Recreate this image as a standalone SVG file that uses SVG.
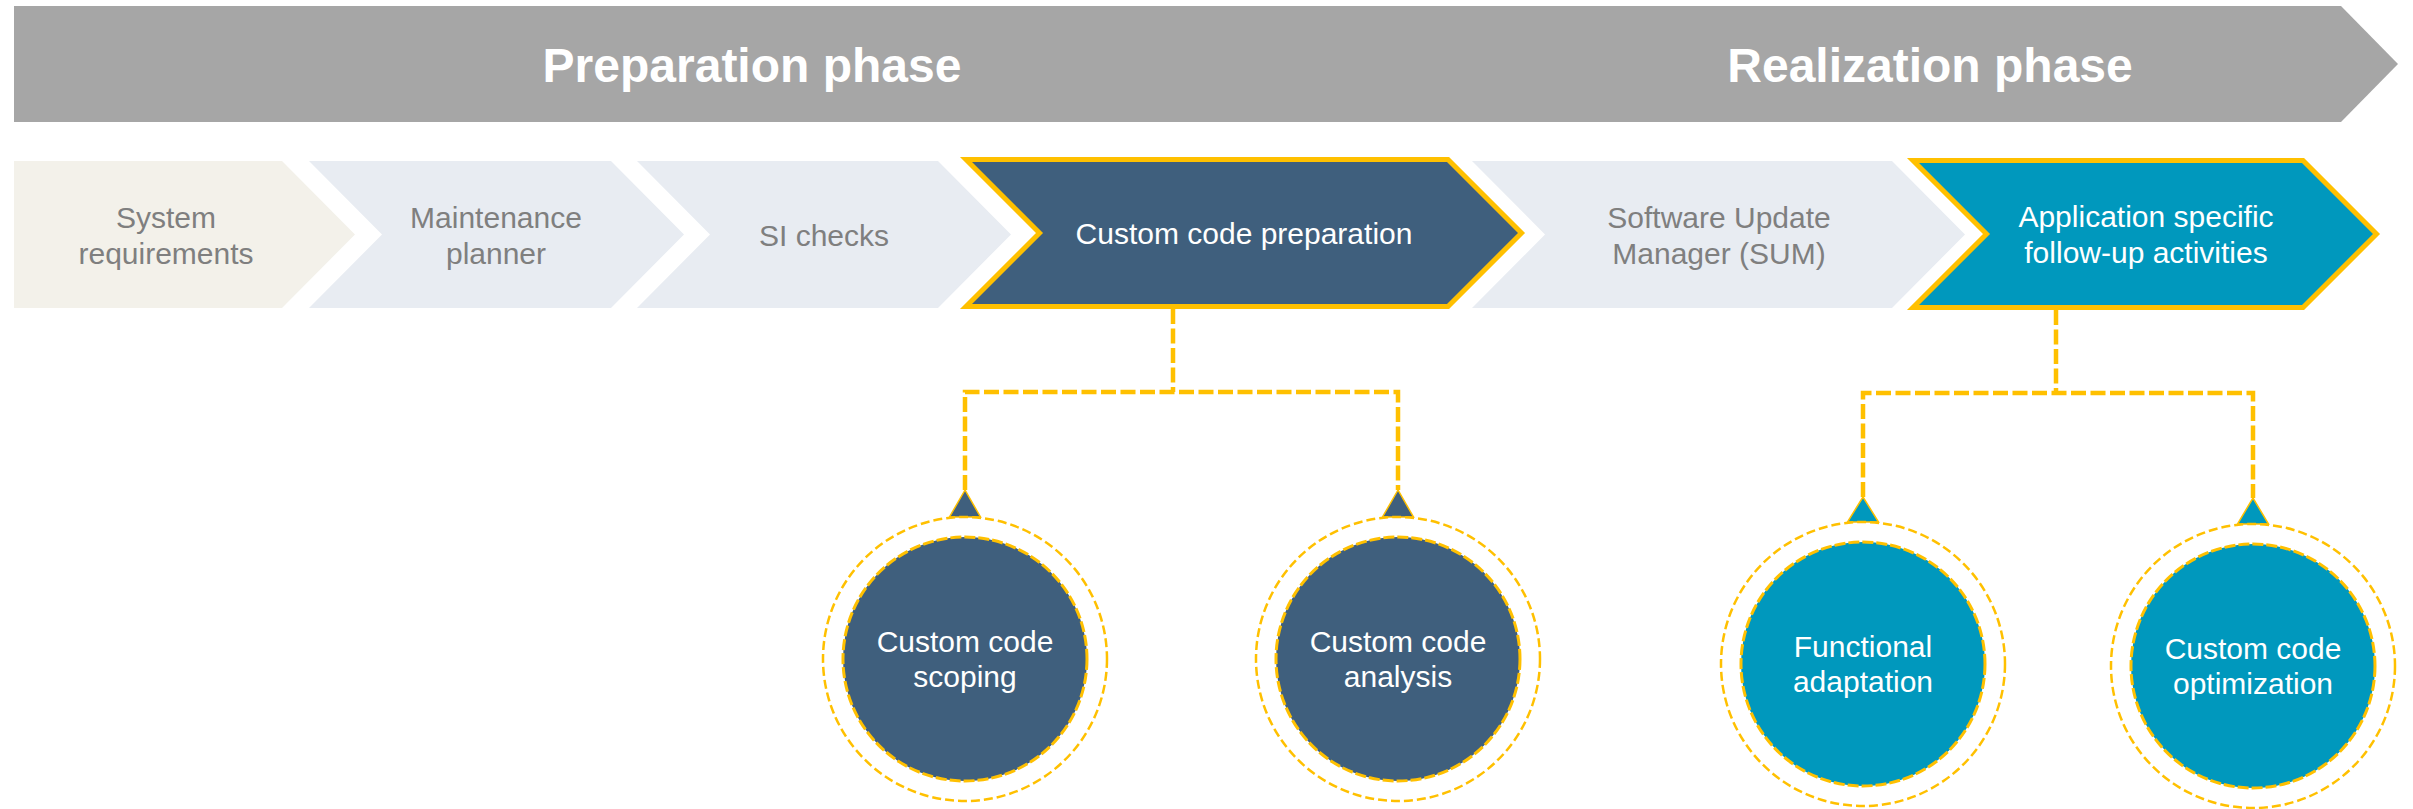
<svg xmlns="http://www.w3.org/2000/svg" width="2413" height="809" viewBox="0 0 2413 809">
<style>
  text { font-family: "Liberation Sans", Arial, sans-serif; text-anchor: middle; }
  .title { font-size: 48px; font-weight: bold; fill: #FFFFFF; }
  .lbl { font-size: 30px; fill: #7F7F7F; }
  .lblw { font-size: 30px; fill: #FFFFFF; }
  .chev-beige { fill: #F3F1EA; }
  .chev-light { fill: #E8ECF2; }
  .chev-dark { fill: #3F5F7D; stroke: #FFC000; stroke-width: 5; stroke-linejoin: miter; }
  .chev-teal { fill: #0098BD; stroke: #FFC000; stroke-width: 5; stroke-linejoin: miter; }
  .conn { fill: none; stroke: #FFC000; stroke-width: 4.5; stroke-dasharray: 15 4.5; }
  .tri-dark { fill: #3F5F7D; stroke: #FFC000; stroke-width: 1.5; }
  .tri-teal { fill: #0098BD; stroke: #FFC000; stroke-width: 1.5; }
  .ring { fill: none; stroke: #FFC000; stroke-width: 2.5; stroke-dasharray: 9 4; }
  .disc-dark { fill: #3F5F7D; stroke: #FFC000; stroke-width: 3; stroke-dasharray: 11 3; }
  .disc-teal { fill: #0098BD; stroke: #FFC000; stroke-width: 3; stroke-dasharray: 11 3; }
</style>

<g id="phase-bar">
  <polygon points="14,6 2341,6 2398,64 2341,122 14,122" fill="#A6A6A6"/>
  <text class="title" x="752" y="82">Preparation phase</text>
  <text class="title" x="1930" y="82">Realization phase</text>
</g>

<g id="system-requirements">
  <polygon class="chev-beige" points="14,161 282,161 355,234.5 282,308 14,308"/>
  <text class="lbl" x="166" y="228">System</text>
  <text class="lbl" x="166" y="264">requirements</text>
</g>

<g id="maintenance-planner">
  <polygon class="chev-light" points="309,161 611,161 684,234.5 611,308 309,308 382,234.5"/>
  <text class="lbl" x="496" y="228">Maintenance</text>
  <text class="lbl" x="496" y="264">planner</text>
</g>

<g id="si-checks">
  <polygon class="chev-light" points="637,161 938,161 1011,234.5 938,308 637,308 710,234.5"/>
  <text class="lbl" x="824" y="246">SI checks</text>
</g>

<g id="custom-code-preparation">
  <polygon class="chev-dark" points="966,159.5 1448,159.5 1521.5,233 1448,306.5 966,306.5 1039.5,233"/>
  <text class="lblw" x="1244" y="244">Custom code preparation</text>
</g>

<g id="sum">
  <polygon class="chev-light" points="1472,161 1892,161 1965,234.5 1892,308 1472,308 1545,234.5"/>
  <text class="lbl" x="1719" y="228">Software Update</text>
  <text class="lbl" x="1719" y="264">Manager (SUM)</text>
</g>

<g id="app-specific">
  <polygon class="chev-teal" points="1913,160.5 2303,160.5 2376.5,234 2303,307.5 1913,307.5 1986.5,234"/>
  <text class="lblw" x="2146" y="227">Application specific</text>
  <text class="lblw" x="2146" y="263">follow-up activities</text>
</g>

<g id="connectors">
  <path class="conn" d="M1173,309 V392 M965,490 V392 H1398 V490"/>
  <path class="conn" d="M2056,310 V393 M1863,497 V393 H2253 V498"/>
  <polygon class="tri-dark" points="965,490 949.5,517 980.5,517"/>
  <polygon class="tri-dark" points="1398,490 1382.5,517 1413.5,517"/>
  <polygon class="tri-teal" points="1863,497 1847.5,522 1878.5,522"/>
  <polygon class="tri-teal" points="2253,498 2237.5,524 2268.5,524"/>
</g>

<g id="custom-code-scoping">
  <circle class="ring" cx="965" cy="659" r="142"/>
  <circle class="disc-dark" cx="965" cy="659" r="122"/>
  <text class="lblw" x="965" y="652">Custom code</text>
  <text class="lblw" x="965" y="687">scoping</text>
</g>

<g id="custom-code-analysis">
  <circle class="ring" cx="1398" cy="659" r="142"/>
  <circle class="disc-dark" cx="1398" cy="659" r="122"/>
  <text class="lblw" x="1398" y="652">Custom code</text>
  <text class="lblw" x="1398" y="687">analysis</text>
</g>

<g id="functional-adaptation">
  <circle class="ring" cx="1863" cy="664" r="142"/>
  <circle class="disc-teal" cx="1863" cy="664" r="122"/>
  <text class="lblw" x="1863" y="657">Functional</text>
  <text class="lblw" x="1863" y="692">adaptation</text>
</g>

<g id="custom-code-optimization">
  <circle class="ring" cx="2253" cy="666" r="142"/>
  <circle class="disc-teal" cx="2253" cy="666" r="122"/>
  <text class="lblw" x="2253" y="659">Custom code</text>
  <text class="lblw" x="2253" y="694">optimization</text>
</g>
</svg>
